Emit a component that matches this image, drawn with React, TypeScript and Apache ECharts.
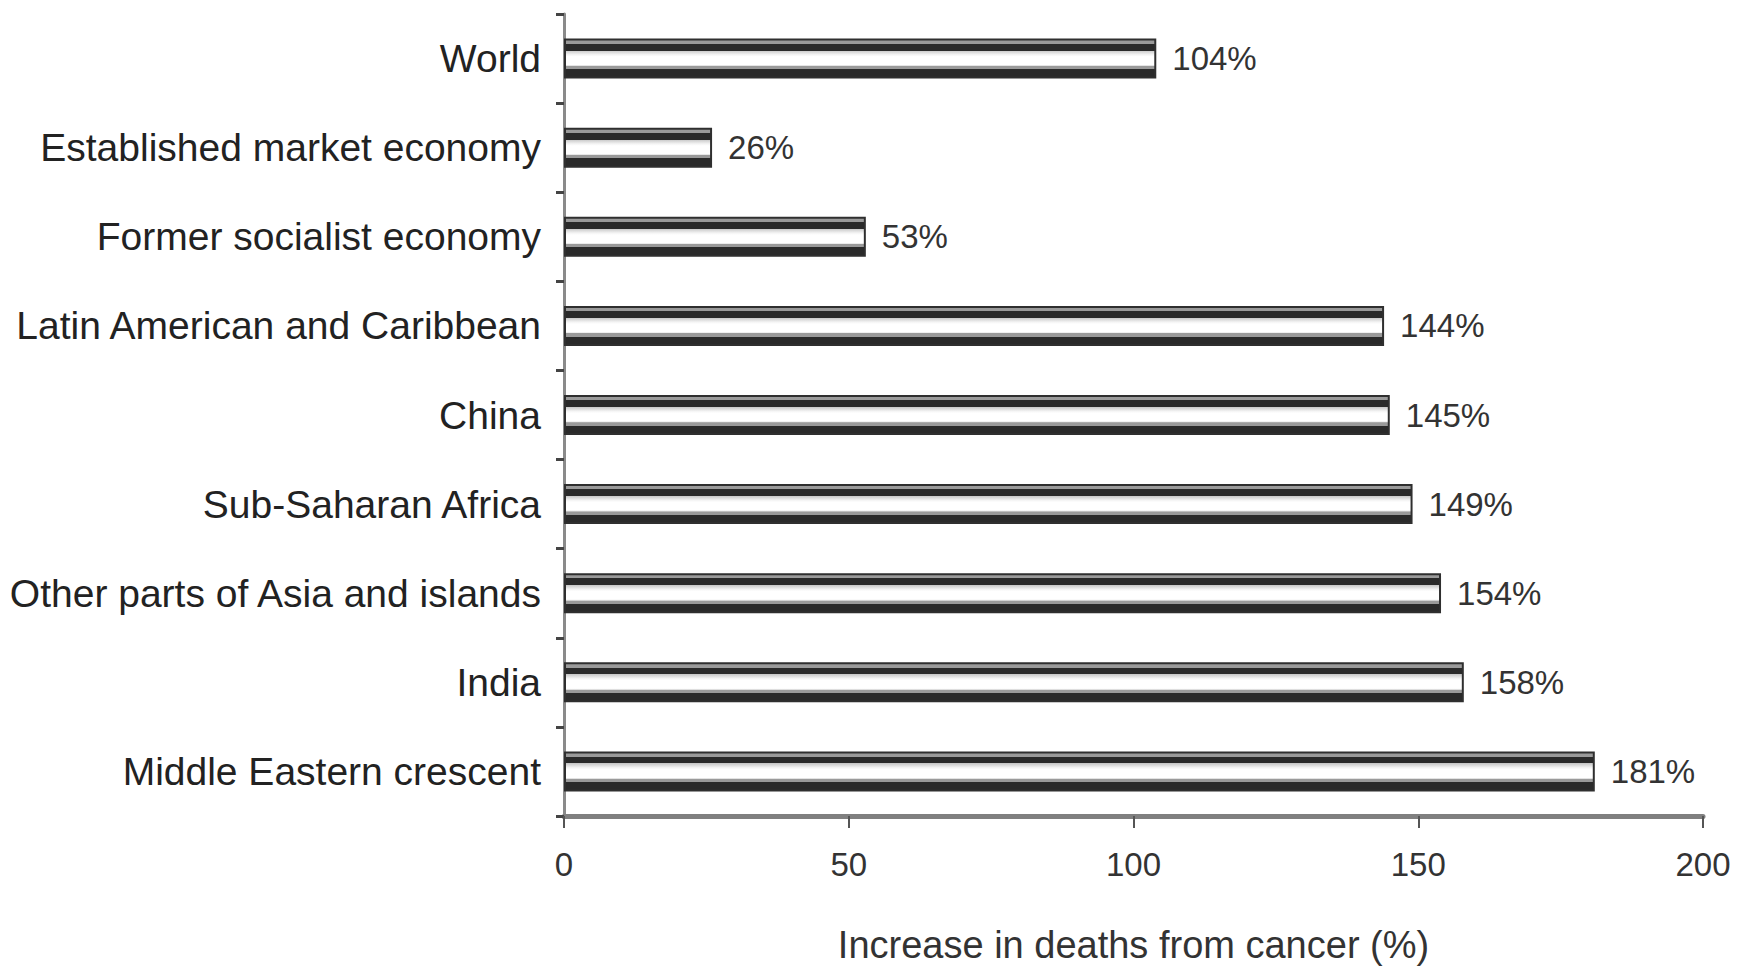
import React, { useEffect, useRef } from "react";
import * as echarts from "echarts";

const categories = [
  "World",
  "Established market economy",
  "Former socialist economy",
  "Latin American and Caribbean",
  "China",
  "Sub-Saharan Africa",
  "Other parts of Asia and islands",
  "India",
  "Middle Eastern crescent",
];
const values = [104, 26, 53, 144, 145, 149, 154, 158, 181];
const xTicks = [0, 50, 100, 150, 200];
const xTitle = "Increase in deaths from cancer (%)";

const FONT = "'Liberation Sans', Arial, sans-serif";

export default function App() {
  const ref = useRef<HTMLDivElement>(null);
  useEffect(() => {
    document.body.style.margin = "0";
    const chart = echarts.init(ref.current!, null, { renderer: "svg" });
    const barFill = {
      type: "linear",
      x: 0,
      y: 0,
      x2: 0,
      y2: 1,
      colorStops: [
        { offset: 0, color: "#9a9a9a" },
        { offset: 0.11, color: "#9a9a9a" },
        { offset: 0.11, color: "#2a2a2a" },
        { offset: 0.29, color: "#2a2a2a" },
        { offset: 0.29, color: "#c8c8c8" },
        { offset: 0.4, color: "#f4f4f4" },
        { offset: 0.45, color: "#ffffff" },
        { offset: 0.66, color: "#ffffff" },
        { offset: 0.69, color: "#dddddd" },
        { offset: 0.7, color: "#9a9a9a" },
        { offset: 0.78, color: "#9a9a9a" },
        { offset: 0.78, color: "#2a2a2a" },
        { offset: 1, color: "#2a2a2a" },
      ],
    };
    chart.setOption({
      animation: false,
      backgroundColor: "#ffffff",
      grid: {
        left: 564,
        right: 41,
        top: 14,
        bottom: 150,
        containLabel: false,
        outerBoundsMode: "none",
      },
      xAxis: {
        type: "value",
        min: xTicks[0],
        max: xTicks[xTicks.length - 1],
        interval: 50,
        name: xTitle,
        nameLocation: "middle",
        nameGap: 110,
        nameTextStyle: { fontFamily: FONT, fontSize: 38, color: "#333" },
        axisLine: { show: true, lineStyle: { color: "#808080", width: 5 } },
        axisTick: { show: true, length: 12, lineStyle: { color: "#555", width: 2 } },
        axisLabel: { fontFamily: FONT, fontSize: 33, color: "#333", margin: 32 },
        splitLine: { show: false },
      },
      yAxis: {
        type: "category",
        data: categories,
        inverse: true,
        axisLine: { show: true, lineStyle: { color: "#8a8a8a", width: 3 } },
        axisTick: { show: true, length: 8, lineStyle: { color: "#444", width: 3 } },
        axisLabel: { fontFamily: FONT, fontSize: 39, color: "#222", margin: 23 },
        splitLine: { show: false },
      },
      series: [
        {
          type: "bar",
          data: values,
          barWidth: 40,
          itemStyle: { color: barFill, borderColor: "#2f2f2f", borderWidth: 2 },
          label: {
            show: true,
            position: "right",
            distance: 16,
            formatter: (p: any) => p.value + "%",
            fontFamily: FONT,
            fontSize: 33,
            color: "#333",
          },
        },
      ],
    });
    return () => chart.dispose();
  }, []);
  return (
    <div
      ref={ref}
      style={{ position: "fixed", left: 0, top: 0, width: 1744, height: 966, background: "#fff" }}
    />
  );
}
